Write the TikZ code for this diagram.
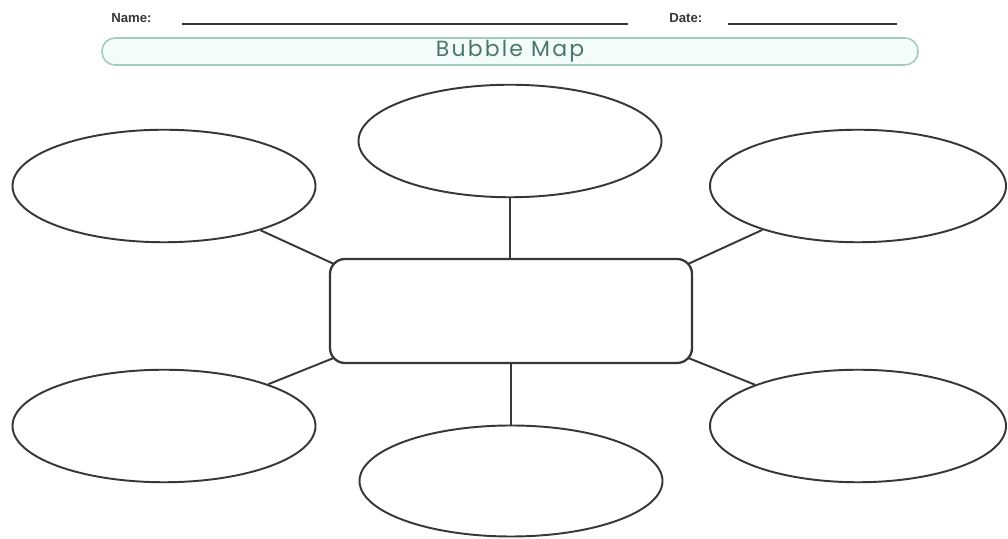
\documentclass[tikz,border=0pt]{standalone}
\usepackage{fontspec}
\newfontfamily\labelfont{Liberation Sans}
\newfontfamily\titlefont[LetterSpace=10]{Poppins}
\usepackage{xcolor}
\definecolor{inkgray}{RGB}{55,55,55}
\definecolor{barmint}{RGB}{244,252,249}
\definecolor{barline}{RGB}{160,205,190}
\definecolor{titleteal}{RGB}{75,120,110}
\usepackage{tikz}
\usetikzlibrary{shapes.geometric,positioning,backgrounds}

\begin{document}
\begin{tikzpicture}[
  bubble/.style={ellipse, draw=inkgray, line width=1.1pt, fill=white,
                 minimum width=6.06cm, minimum height=2.25cm, inner sep=0pt},
  hub/.style={rectangle, rounded corners=0.3cm, draw=inkgray, line width=1.3pt,
              fill=white, minimum width=7.24cm, minimum height=2.08cm},
  titlebar/.style={rectangle, rounded corners=0.26cm, draw=barline, line width=0.9pt,
                   fill=barmint, minimum width=16.32cm, minimum height=0.54cm,
                   inner sep=0pt, font=\titlefont\fontsize{12.5}{14}\selectfont,
                   text=titleteal},
  link/.style={line width=1.1pt, color=inkgray},
  fieldlabel/.style={font=\labelfont\bfseries\fontsize{7.5}{8}\selectfont,
                     text=inkgray, inner sep=0pt, anchor=base west},
  fieldline/.style={line width=0.6pt, color=inkgray}
]
\useasboundingbox (0,0) rectangle (20.16,10.78);

%% header
\node[fieldlabel] (namelbl) at (2.22,10.33) {Name:};
\node[fieldlabel] (datelbl) at (13.38,10.33) {Date:};
\coordinate (namestart) at (3.64,10.30);
\coordinate (nameend) at (12.56,10.30);
\coordinate (datestart) at (14.56,10.30);
\coordinate (dateend) at (17.94,10.30);
\draw[fieldline] (namestart) -- (nameend);
\draw[fieldline] (datestart) -- (dateend);
\node[titlebar] (title) at (10.2,9.75) {\raisebox{-0.3pt}{Bubble Map}};

%% map
\node[hub] (hubbox) at (10.22,4.56) {};
\node[bubble] (top) at (10.2,7.96) {};
\node[bubble] (topleft) at (3.28,7.06) {};
\node[bubble, minimum width=5.92cm] (topright) at (17.16,7.06) {};
\node[bubble] (botleft) at (3.28,2.26) {};
\node[bubble, minimum width=5.92cm] (botright) at (17.16,2.26) {};
\node[bubble, minimum height=2.22cm] (bot) at (10.22,1.16) {};

\begin{scope}[on background layer]
\fill[white] (0,0) rectangle (20.16,10.78);
\draw[link] (top) -- (top |- hubbox.north);
\draw[link] (bot) -- (bot |- hubbox.south);
\draw[link] (topleft) -- ([shift={(0.14,-0.14)}]hubbox.north west);
\draw[link] (topright) -- ([shift={(-0.14,-0.14)}]hubbox.north east);
\draw[link] (botleft) -- ([shift={(0.14,0.14)}]hubbox.south west);
\draw[link] (botright) -- ([shift={(-0.14,0.14)}]hubbox.south east);
\end{scope}

\end{tikzpicture}
\end{document}
